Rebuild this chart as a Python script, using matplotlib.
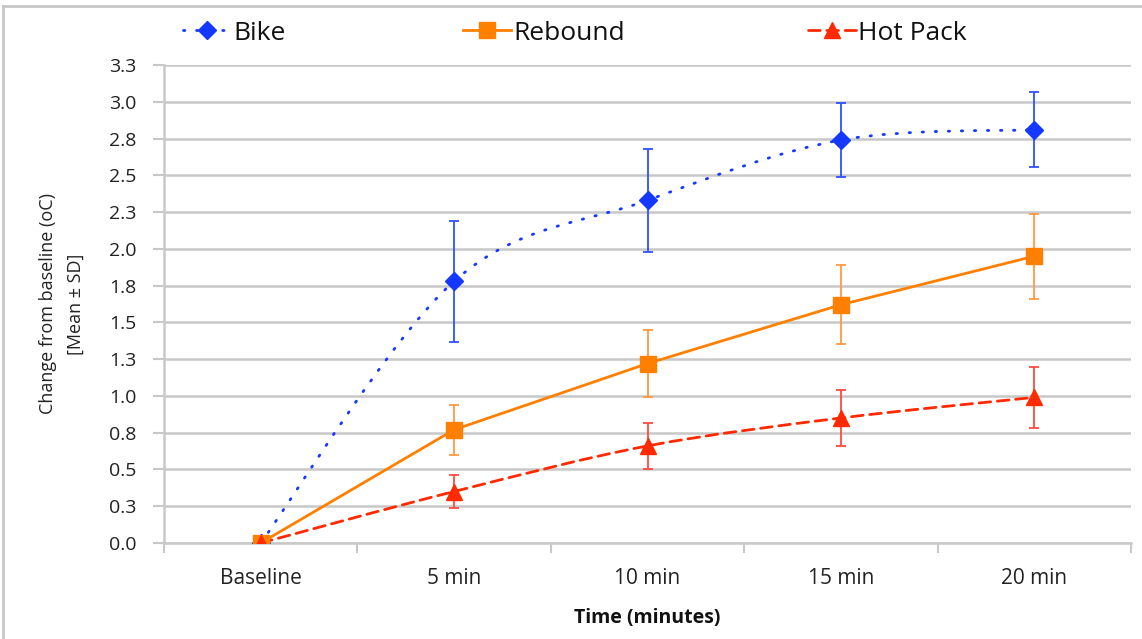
import numpy as np
import matplotlib
matplotlib.use('Agg')
import matplotlib.pyplot as plt
from matplotlib.path import Path
from matplotlib.patches import PathPatch
from matplotlib.lines import Line2D

plt.rcParams['font.family'] = ['Open Sans', 'DejaVu Sans']

categories = ['Baseline', '5 min', '10 min', '15 min', '20 min']

bike = [0.0, 1.78, 2.33, 2.74, 2.81]
bike_sd = [0.0, 0.41, 0.35, 0.25, 0.255]

rebound = [0.0, 0.77, 1.22, 1.62, 1.95]
rebound_sd = [0.0, 0.17, 0.23, 0.27, 0.29]

hot_pack = [0.0, 0.35, 0.66, 0.85, 0.99]
hot_pack_sd = [0.0, 0.11, 0.155, 0.19, 0.205]

y_ticks = np.arange(0, 3.26, 0.25)
y_labels = ['0.0', '0.3', '0.5', '0.8', '1.0', '1.3', '1.5', '1.8',
            '2.0', '2.3', '2.5', '2.8', '3.0', '3.3']

GRID = '#c8c8c8'
TEXT = '#222222'


def smooth_path(xs, ys):
  # excel-style smoothed line: cubic bezier through every point
  pts = np.column_stack([xs, ys])
  verts = [pts[0]]
  codes = [Path.MOVETO]
  n = len(pts)
  for i in range(n - 1):
    p0 = pts[max(i - 1, 0)]
    p1 = pts[i]
    p2 = pts[i + 1]
    p3 = pts[min(i + 2, n - 1)]
    c1 = p1 + (p2 - p0) / 6.0
    c2 = p2 - (p3 - p1) / 6.0
    verts += [c1, c2, p2]
    codes += [Path.CURVE4] * 3
  return Path(verts, codes)


def plot_series(ax, x, y, sd, color, err_color, marker, ms, ls, smooth):
  if smooth:
    patch = PathPatch(smooth_path(x, y), fill=False, edgecolor=color,
                      linewidth=2.0, linestyle=ls, capstyle='round', zorder=3)
    ax.add_patch(patch)
  else:
    ax.plot(x, y, color=color, linewidth=2.0, linestyle=ls, zorder=3)
  ax.errorbar(x, y, yerr=sd, fmt='none', ecolor=err_color, elinewidth=1.3,
              capsize=3.5, capthick=1.3, zorder=4)
  ax.plot(x, y, linestyle='none', marker=marker, markersize=ms,
          color=color, zorder=5)
  return Line2D([], [], color=color, linewidth=2.0, linestyle=ls,
                marker=marker, markersize=ms, dash_capstyle='round')


def plot_chart():
  fig = plt.figure(figsize=(11.42, 6.39), dpi=100)
  ax = fig.add_axes([164 / 1142, 96 / 639, 967 / 1142, 478 / 639])

  x = np.arange(len(categories))

  h_bike = plot_series(ax, x, bike, bike_sd, '#1438ff', '#3050ff', 'D', 9.5,
                       (0, (0.5, 4.2)), True)
  h_reb = plot_series(ax, x, rebound, rebound_sd, '#ff8000', '#ff9a40', 's',
                      11, '-', False)
  h_hot = plot_series(ax, x, hot_pack, hot_pack_sd, '#ff2a00', '#ff4a40', '^',
                      11, (0, (4.2, 2.4)), True)

  ax.set_xlim(-0.5, len(categories) - 0.5)
  ax.set_ylim(0, 3.25)
  ax.set_yticks(y_ticks)
  ax.set_yticklabels(y_labels)
  ax.set_xticks(x)
  ax.set_xticklabels(categories)
  ax.set_xticks(np.arange(-0.5, len(categories), 1.0), minor=True)

  ax.yaxis.grid(True, color=GRID, linewidth=1.8)
  ax.set_axisbelow(True)

  ax.tick_params(axis='y', which='major', length=8, width=1.5, color=GRID,
                 pad=12, labelsize=14, labelcolor=TEXT)
  ax.tick_params(axis='x', which='major', length=0, pad=18, labelsize=15,
                 labelcolor=TEXT)
  ax.tick_params(axis='x', which='minor', length=7, width=1.5, color=GRID)

  for side in ['top', 'right']:
    ax.spines[side].set_visible(False)
  for side in ['left', 'bottom']:
    ax.spines[side].set_color(GRID)
    ax.spines[side].set_linewidth(1.8)

  ax.set_xlabel('Time (minutes)', fontsize=14, fontweight='bold', labelpad=14,
                color='#111111')
  fig.text(62 / 1142, 1 - 304 / 639, 'Change from baseline (oC)\n[Mean \u00b1 SD]',
           rotation=90, ha='center', va='center', multialignment='center',
           fontsize=13, linespacing=1.75, color=TEXT)

  # one legend per series so each entry sits where it does in the original
  for handle, label, x0 in [(h_bike, 'Bike', 183), (h_reb, 'Rebound', 463),
                            (h_hot, 'Hot Pack', 808)]:
    fig.legend([handle], [label], loc='center left',
               bbox_to_anchor=(x0 / 1142, 1 - 33 / 639), frameon=False,
               fontsize=19, handlelength=1.8, handletextpad=0.1,
               borderpad=0, borderaxespad=0, labelcolor='#111111')

  # chart border, only top and left show in the crop
  fig.add_artist(Line2D([3 / 1142, 3 / 1142], [0, 1 - 6 / 639],
                        transform=fig.transFigure, color=GRID, linewidth=2))
  fig.add_artist(Line2D([3 / 1142, 1], [1 - 6 / 639, 1 - 6 / 639],
                        transform=fig.transFigure, color=GRID, linewidth=2))

  fig.savefig('out.png', dpi=100)


if __name__ == '__main__':
  plot_chart()
